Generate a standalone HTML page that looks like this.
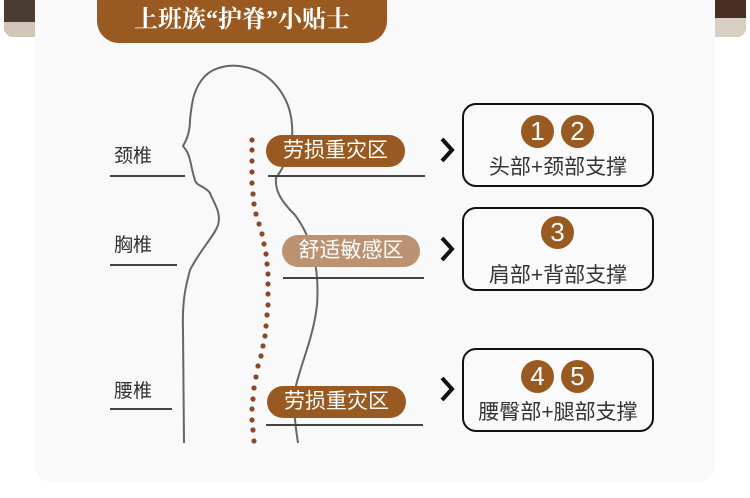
<!DOCTYPE html><html><head><meta charset="utf-8"><style>
body{margin:0;width:750px;height:498px;background:#fff;position:relative;overflow:hidden;font-family:"Liberation Sans","Noto Sans CJK SC",sans-serif;color:#333}
.a{position:absolute}
.card{left:35px;top:0;width:680px;height:482px;background:#f9f9f9;border-radius:0 0 16px 16px}
.pill{position:absolute;color:#fff;font-size:21px;border-radius:17px;text-align:center;line-height:32px}
.ln{position:absolute;height:2px;background:#444}
.lab{position:absolute;font-size:19px;color:#333}
.box{position:absolute;left:462px;width:188px;border:2px solid #111;border-radius:14px;background:#fafafa}
.c{position:absolute;width:33px;height:33px;border-radius:50%;background:#985a20;color:#fff;font-size:26px;line-height:33px;text-align:center}
.bt{position:absolute;width:100%;text-align:center;font-size:21px;color:#333;white-space:nowrap}
.ch{position:absolute;font-size:30px;font-weight:bold;color:#111}
</style></head><body>
<div class="a" style="left:4px;top:0;width:31px;height:37px;background:#4a3b33;border-radius:0 0 0 10px"></div>
<div class="a" style="left:4px;top:22px;width:31px;height:15px;background:#cfc6b8;border-radius:0 0 0 10px"></div>
<div class="a" style="left:715px;top:0;width:31px;height:37px;background:#4a2e22;border-radius:0 0 10px 0"></div>
<div class="a" style="left:715px;top:18px;width:31px;height:19px;background:#d8cfc2;border-radius:0 0 10px 0"></div>
<div class="a card"></div>
<div class="a" style="left:97px;top:0;width:290px;height:43px;background:#985a20;border-radius:0 0 22px 22px/0 0 22px 22px;color:#fff;font-family:'Liberation Serif','Noto Serif CJK SC',serif;font-size:24px;font-weight:bold;text-align:center;line-height:40px">上班族“护脊”小贴士</div>
<svg class="a" style="left:0;top:0" width="750" height="498">
<path d="M184 443 L183 330 C182 300 186 285 190 270 C200 250 215 235 218 225 C222 212 212 200 210 193 C205 186 196 186 195 180 C193 175 192 168 190 160 C188 152 186 150 183 146 C188 138 190 130 190 120 C192 100 194 88 205 76 C215 66 232 64 245 67 C270 72 290 95 292 125 C294 150 285 165 276 178 C275 190 280 200 295 215 C310 235 320 265 317 305 C313 340 300 365 295 390 C293 410 296 430 298 443" fill="none" stroke="#666" stroke-width="2"/>
<g fill="#8a4a2a">
<circle cx="252" cy="140" r="2.6"/><circle cx="252" cy="150" r="2.6"/><circle cx="252" cy="161" r="2.6"/><circle cx="252" cy="172" r="2.6"/><circle cx="252" cy="183" r="2.6"/><circle cx="253" cy="194" r="2.6"/><circle cx="254" cy="204" r="2.6"/><circle cx="256" cy="214" r="2.6"/><circle cx="259" cy="224" r="2.6"/><circle cx="262" cy="234" r="2.6"/><circle cx="264" cy="244" r="2.6"/><circle cx="266" cy="254" r="2.6"/><circle cx="267" cy="264" r="2.6"/><circle cx="268" cy="274" r="2.6"/><circle cx="268" cy="284" r="2.6"/><circle cx="268" cy="294" r="2.6"/><circle cx="268" cy="305" r="2.6"/><circle cx="267" cy="315" r="2.6"/><circle cx="266" cy="326" r="2.6"/><circle cx="265" cy="336" r="2.6"/><circle cx="263" cy="346" r="2.6"/><circle cx="261" cy="356" r="2.6"/><circle cx="258" cy="366" r="2.6"/><circle cx="256" cy="377" r="2.6"/><circle cx="254" cy="388" r="2.6"/><circle cx="253" cy="399" r="2.6"/><circle cx="252" cy="409" r="2.6"/><circle cx="252" cy="420" r="2.6"/><circle cx="253" cy="430" r="2.6"/><circle cx="254" cy="441" r="2.6"/>
</g>
<g fill="none" stroke="#111" stroke-width="4"><path d="M442 139 L452 150 L442 161"/><path d="M442 238 L452 249 L442 260"/><path d="M442 378 L452 389 L442 400"/></g>
</svg>
<div class="lab" style="left:114px;top:141px">颈椎</div><div class="ln" style="left:110px;top:175px;width:75px"></div>
<div class="lab" style="left:114px;top:230px">胸椎</div><div class="ln" style="left:110px;top:264px;width:67px"></div>
<div class="lab" style="left:114px;top:376px">腰椎</div><div class="ln" style="left:110px;top:408px;width:62px"></div>
<div class="pill" style="left:266px;top:135px;width:139px;background:#985a20">劳损重灾区</div><div class="ln" style="left:268px;top:175px;width:157px"></div>
<div class="pill" style="left:282px;top:235px;width:138px;background:#bb9372">舒适敏感区</div><div class="ln" style="left:283px;top:277px;width:141px"></div>
<div class="pill" style="left:267px;top:386px;width:139px;background:#985a20">劳损重灾区</div><div class="ln" style="left:266px;top:424px;width:157px"></div>
<div class="box" style="top:103px;height:80px"><div class="c" style="left:57px;top:10px">1</div><div class="c" style="left:97px;top:10px">2</div><div class="bt" style="top:46px">头部+颈部支撑</div></div>
<div class="box" style="top:207px;height:80px"><div class="c" style="left:77px;top:7px">3</div><div class="bt" style="top:50px">肩部+背部支撑</div></div>
<div class="box" style="top:348px;height:80px"><div class="c" style="left:57px;top:10px">4</div><div class="c" style="left:97px;top:10px">5</div><div class="bt" style="top:46px">腰臀部+腿部支撑</div></div>
</body></html>
